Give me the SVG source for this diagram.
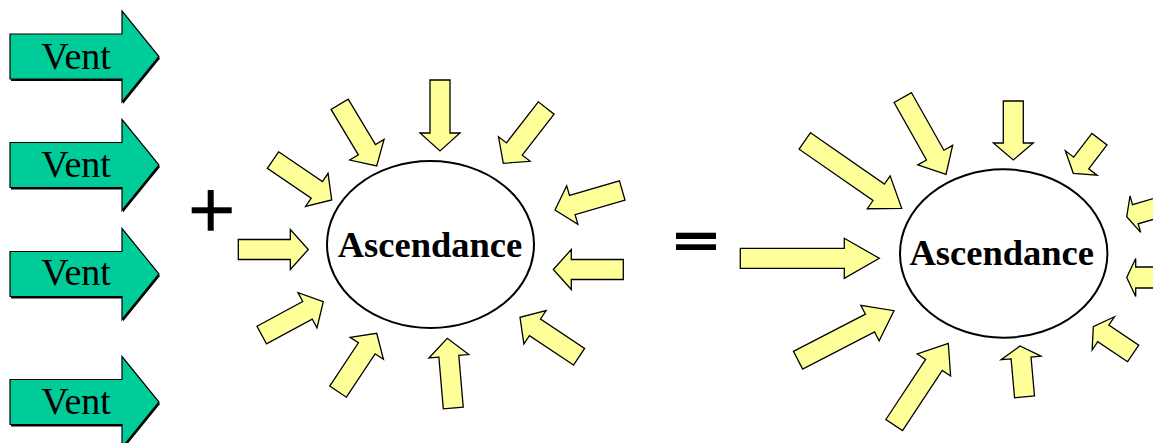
<svg xmlns="http://www.w3.org/2000/svg" width="1153" height="443" viewBox="0 0 1153 443">
<style>
.y{fill:#FFFF99;stroke:#000;stroke-width:1.3;stroke-linejoin:miter}
.g{fill:#00CC99;stroke:#000;stroke-width:1.2}
.gs{fill:#000}
.vt{font-family:"Liberation Serif","Times New Roman",serif;font-size:38px;fill:#000;text-anchor:middle}
.at{font-family:"Liberation Serif","Times New Roman",serif;font-size:36.5px;font-weight:bold;fill:#000;text-anchor:middle}
.el{fill:#fff;stroke:#000;stroke-width:2}
.op{fill:#000}
</style>
<defs>
<path id="vent" d="M10,-22.5 H122 V-45.5 L159,0 L122,45.5 V22.5 H10 Z"/>
</defs>
<rect width="1153" height="443" fill="#fff"/>

<g id="vent1" transform="translate(0,56.5)">
<use href="#vent" class="gs" transform="translate(1,2)"/>
<use href="#vent" class="g"/>
<text class="vt" x="76" y="12.5">Vent</text>
</g>
<g id="vent2" transform="translate(0,165)">
<use href="#vent" class="gs" transform="translate(1,2)"/>
<use href="#vent" class="g"/>
<text class="vt" x="76" y="12">Vent</text>
</g>
<g id="vent3" transform="translate(0,274)">
<use href="#vent" class="gs" transform="translate(1,2)"/>
<use href="#vent" class="g"/>
<text class="vt" x="76" y="11">Vent</text>
</g>
<g id="vent4" transform="translate(0,402)">
<use href="#vent" class="gs" transform="translate(1,2)"/>
<use href="#vent" class="g"/>
<text class="vt" x="76" y="12">Vent</text>
</g>

<g id="plus">
<rect class="op" x="191.7" y="207.3" width="40" height="6"/>
<rect class="op" x="207.7" y="190" width="6" height="40.7"/>
</g>
<g id="equals">
<rect class="op" x="676" y="232.7" width="40" height="6.3"/>
<rect class="op" x="676" y="244.3" width="40" height="5.7"/>
</g>

<g id="ascendance1">
<ellipse class="el" cx="430.5" cy="244.5" rx="103.5" ry="83.5"/>
<text class="at" x="430" y="257">Ascendance</text>
</g>
<g id="ascendance2">
<ellipse class="el" cx="1003.7" cy="253.5" rx="103.7" ry="84.2"/>
<text class="at" x="1001.7" y="265">Ascendance</text>
</g>

<g id="connectors">
<polygon class="y" transform="translate(440,151) rotate(90)" points="-71,-10 -18,-10 -18,-20 0,0 -18,20 -18,10 -71,10"/>
<polygon class="y" transform="translate(376.7,166) rotate(59)" points="-72,-10 -19,-10 -19,-20 0,0 -19,20 -19,10 -72,10"/>
<polygon class="y" transform="translate(503.3,163.3) rotate(127.8)" points="-70,-10 -18,-10 -18,-20 0,0 -18,20 -18,10 -70,10"/>
<polygon class="y" transform="translate(331.7,200) rotate(34.2)" points="-71,-10 -18,-10 -18,-20 0,0 -18,20 -18,10 -71,10"/>
<polygon class="y" transform="translate(308.3,249.5) rotate(0)" points="-70,-10 -18,-10 -18,-20 0,0 -18,20 -18,10 -70,10"/>
<polygon class="y" transform="translate(323.3,301.7) rotate(-28.4)" points="-70,-10 -18,-10 -18,-20 0,0 -18,20 -18,10 -70,10"/>
<polygon class="y" transform="translate(376.7,333.3) rotate(-56.5)" points="-70,-10 -18,-10 -18,-20 0,0 -18,20 -18,10 -70,10"/>
<polygon class="y" transform="translate(447.3,338.3) rotate(-94.9)" points="-70,-10 -18,-10 -18,-20 0,0 -18,20 -18,10 -70,10"/>
<polygon class="y" transform="translate(520,317.3) rotate(-146.3)" points="-71,-10 -18,-10 -18,-20 0,0 -18,20 -18,10 -71,10"/>
<polygon class="y" transform="translate(553.3,269.5) rotate(180)" points="-70,-10 -18,-10 -18,-20 0,0 -18,20 -18,10 -70,10"/>
<polygon class="y" transform="translate(555,210) rotate(163.8)" points="-70,-10 -18,-10 -18,-20 0,0 -18,20 -18,10 -70,10"/>

<polygon class="y" transform="translate(879.3,258.3) rotate(0)" points="-139,-10 -35,-10 -35,-20 0,0 -35,20 -35,10 -139,10"/>
<polygon class="y" transform="translate(901.7,208.3) rotate(34.8)" points="-118,-10 -28,-10 -28,-20 0,0 -28,20 -28,10 -118,10"/>
<polygon class="y" transform="translate(946,174.3) rotate(60.6)" points="-88,-10 -22,-10 -22,-20 0,0 -22,20 -22,10 -88,10"/>
<polygon class="y" transform="translate(1013.3,160) rotate(90)" points="-59,-10 -17,-10 -17,-20 0,0 -17,20 -17,10 -59,10"/>
<polygon class="y" transform="translate(1073.3,173.3) rotate(127.5)" points="-43,-9.5 -13,-9.5 -13,-20 0,0 -13,20 -13,9.5 -43,9.5"/>
<polygon class="y" transform="translate(1126.7,216.7) rotate(163.8)" points="-45,-10 -9,-10 -9,-19 0,0 -9,19 -9,10 -45,10"/>
<polygon class="y" transform="translate(1126.7,277.5) rotate(180)" points="-45,-10.5 -9,-10.5 -9,-19 0,0 -9,19 -9,10.5 -45,10.5"/>
<polygon class="y" transform="translate(1093.3,326.7) rotate(-146.2)" points="-48,-10 -12,-10 -12,-20 0,0 -12,20 -12,10 -48,10"/>
<polygon class="y" transform="translate(1020,346) rotate(-95.1)" points="-51,-10 -12,-10 -12,-20 0,0 -12,20 -12,10 -51,10"/>
<polygon class="y" transform="translate(948.3,343.3) rotate(-56.5)" points="-98,-10 -26,-10 -26,-20 0,0 -26,20 -26,10 -98,10"/>
<polygon class="y" transform="translate(894,310.7) rotate(-27.3)" points="-108,-10 -27,-10 -27,-20 0,0 -27,20 -27,10 -108,10"/>
</g>
</svg>
